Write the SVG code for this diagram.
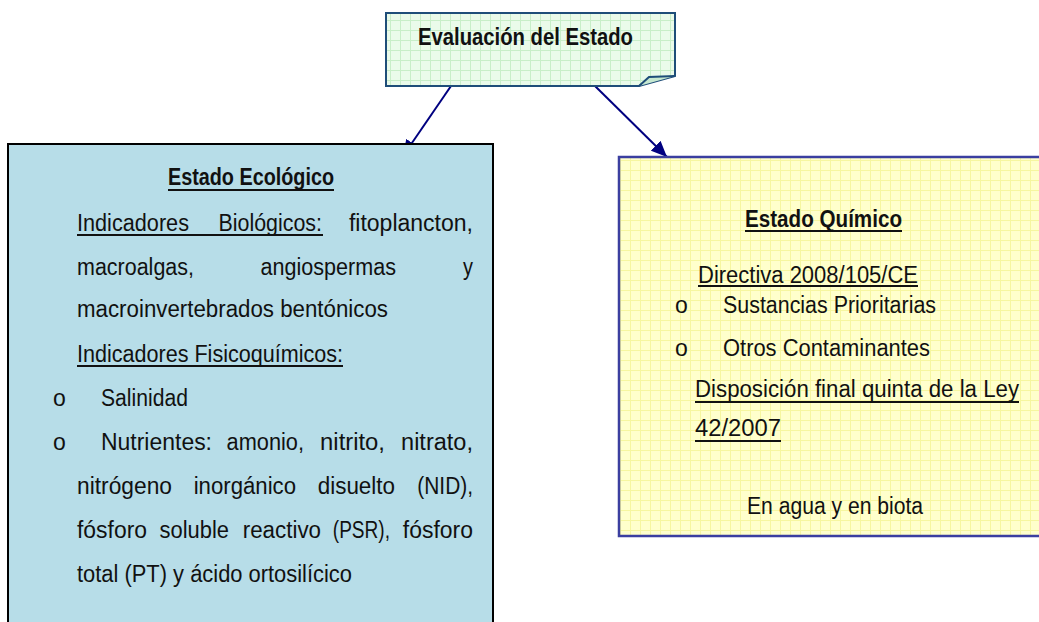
<svg xmlns="http://www.w3.org/2000/svg" width="1039" height="622" viewBox="0 0 1039 622">
<style>
.t{font-family:"Liberation Sans",Arial,sans-serif;font-size:23px;fill:#111}
.b{font-weight:bold}
.ul{stroke:#111;stroke-width:1.8}
.conn{stroke:#000080;stroke-width:2;fill:none}
</style>
<defs>
<pattern id="gridG" width="10" height="10" patternUnits="userSpaceOnUse">
<rect width="10" height="10" fill="#eafbea"/>
<path d="M0 0.5H10M0.5 0V10" stroke="#c8eec8" stroke-width="1"/>
</pattern>
<pattern id="gridY" width="10" height="10" patternUnits="userSpaceOnUse">
<rect width="10" height="10" fill="#ffffcc"/>
<path d="M0 0.5H10M0.5 0V10" stroke="#f6f6a0" stroke-width="1"/>
</pattern>
<marker id="arr" viewBox="0 0 16 14" refX="16" refY="7" markerWidth="16" markerHeight="14" markerUnits="userSpaceOnUse" orient="auto">
<path d="M0,0 L16,7 L0,14 Z" fill="#000080"/>
</marker>
</defs>

<g id="connectors">
<line class="conn" x1="451" y1="86" x2="403" y2="156" marker-end="url(#arr)"/>
<line class="conn" x1="595" y1="86" x2="667" y2="157" marker-end="url(#arr)"/>
</g>

<g id="evaluacion">
<path d="M386,13 H675 V76 L639,86 H386 Z" fill="url(#gridG)" stroke="#1f4e79" stroke-width="2"/>
<path d="M639,86 L649,77 L675,76" fill="#c6e8d0" stroke="#1f4e79" stroke-width="2"/>
<text class="t b" x="418" y="45" textLength="215" lengthAdjust="spacingAndGlyphs">Evaluación del Estado</text>
</g>

<g id="ecologico">
<rect x="8" y="144" width="485" height="490" fill="#b7dde8" stroke="#000" stroke-width="2"/>
<text class="t b" x="168" y="185" textLength="166" lengthAdjust="spacingAndGlyphs">Estado Ecológico</text>
<line class="ul" x1="168" y1="190" x2="334" y2="190"/>
<text class="t" y="231" lengthAdjust="spacingAndGlyphs"><tspan x="77" textLength="112" lengthAdjust="spacingAndGlyphs">Indicadores</tspan><tspan x="212.5" textLength="109.5" lengthAdjust="spacingAndGlyphs"> Biológicos:</tspan><tspan x="342.5" textLength="130.5" lengthAdjust="spacingAndGlyphs"> fitoplancton,</tspan></text>
<line class="ul" x1="77" y1="235" x2="323" y2="235"/>
<text class="t" y="275"><tspan x="77" textLength="117" lengthAdjust="spacingAndGlyphs">macroalgas,</tspan><tspan x="254.5" textLength="141.5" lengthAdjust="spacingAndGlyphs"> angiospermas</tspan><tspan x="457.5" textLength="15.5" lengthAdjust="spacingAndGlyphs"> y</tspan></text>
<text class="t" x="77" y="317" textLength="311" lengthAdjust="spacingAndGlyphs">macroinvertebrados bentónicos</text>
<text class="t" x="77" y="362" textLength="266" lengthAdjust="spacingAndGlyphs">Indicadores Fisicoquímicos:</text>
<line class="ul" x1="77" y1="366" x2="343" y2="366"/>
<text class="t" x="53" y="406">o</text>
<text class="t" x="101" y="406" textLength="87" lengthAdjust="spacingAndGlyphs">Salinidad</text>
<text class="t" x="53" y="450">o</text>
<text class="t" y="450"><tspan x="101" textLength="111" lengthAdjust="spacingAndGlyphs">Nutrientes:</tspan><tspan x="220.5" textLength="83.5" lengthAdjust="spacingAndGlyphs"> amonio,</tspan><tspan x="313.5" textLength="71.5" lengthAdjust="spacingAndGlyphs"> nitrito,</tspan><tspan x="394.5" textLength="78.5" lengthAdjust="spacingAndGlyphs"> nitrato,</tspan></text>
<text class="t" y="494"><tspan x="77" textLength="95" lengthAdjust="spacingAndGlyphs">nitrógeno</tspan><tspan x="187.5" textLength="108.5" lengthAdjust="spacingAndGlyphs"> inorgánico</tspan><tspan x="311.5" textLength="83.5" lengthAdjust="spacingAndGlyphs"> disuelto</tspan><tspan x="411.5" textLength="61.5" lengthAdjust="spacingAndGlyphs"> (NID),</tspan></text>
<text class="t" y="538"><tspan x="77" textLength="70" lengthAdjust="spacingAndGlyphs">fósforo</tspan><tspan x="153.5" textLength="75.5" lengthAdjust="spacingAndGlyphs"> soluble</tspan><tspan x="236.5" textLength="84.5" lengthAdjust="spacingAndGlyphs"> reactivo</tspan><tspan x="327.5" textLength="62.5" lengthAdjust="spacingAndGlyphs"> (PSR),</tspan><tspan x="396.5" textLength="76.5" lengthAdjust="spacingAndGlyphs"> fósforo</tspan></text>
<text class="t" x="77" y="582" textLength="275" lengthAdjust="spacingAndGlyphs">total (PT) y ácido ortosilícico</text>
</g>

<g id="quimico">
<rect x="619" y="157" width="425" height="379" fill="url(#gridY)" stroke="#3b3fa0" stroke-width="2.5"/>
<text class="t b" x="745" y="227" textLength="157" lengthAdjust="spacingAndGlyphs">Estado Químico</text>
<line class="ul" x1="745" y1="231" x2="902" y2="231"/>
<text class="t" x="698" y="283" textLength="220" lengthAdjust="spacingAndGlyphs">Directiva 2008/105/CE</text>
<line class="ul" x1="698" y1="286" x2="918" y2="286"/>
<text class="t" x="675" y="313">o</text>
<text class="t" x="723" y="313" textLength="213" lengthAdjust="spacingAndGlyphs">Sustancias Prioritarias</text>
<text class="t" x="675" y="356">o</text>
<text class="t" x="723" y="356" textLength="207" lengthAdjust="spacingAndGlyphs">Otros Contaminantes</text>
<text class="t" x="695" y="397" textLength="324" lengthAdjust="spacingAndGlyphs">Disposición final quinta de la Ley</text>
<line class="ul" x1="695" y1="402" x2="1019" y2="402"/>
<text class="t" x="695" y="436" textLength="86" lengthAdjust="spacingAndGlyphs">42/2007</text>
<line class="ul" x1="695" y1="441" x2="781" y2="441"/>
<text class="t" x="747" y="514" textLength="176" lengthAdjust="spacingAndGlyphs">En agua y en biota</text>
</g>
</svg>
